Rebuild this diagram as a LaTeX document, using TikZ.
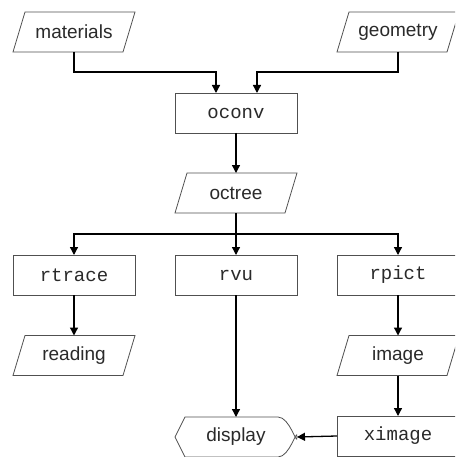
\documentclass[tikz,border=0pt]{standalone}
\usepackage{fontspec}
\setmainfont{Liberation Sans}
\setmonofont{Liberation Mono}
\usetikzlibrary{arrows.meta}
\definecolor{shapegray}{HTML}{505050}
\definecolor{txtgray}{HTML}{2A2A2A}
\tikzset{
  base/.style={minimum width=122pt, minimum height=40pt, inner sep=0pt, outer sep=0pt,
    text=txtgray, font=\fontsize{19}{22}\selectfont},
  para/.style={base},
  procbox/.style={base, draw=shapegray, line width=0.8pt, font=\ttfamily\fontsize{19}{22}\selectfont},
  dispbox/.style={base},
  shapeline/.style={draw=shapegray, line width=0.8pt},
  conn/.style={draw=black, line width=1.3pt, -{Triangle[length=8pt,width=8pt]}},
  plainconn/.style={draw=black, line width=1.3pt}
}
\begin{document}
\begin{tikzpicture}[x=1pt,y=-1pt]
\useasboundingbox (0,0) rectangle (455,457);
\clip (0,0) rectangle (455,457);
\fill[white] (0,0) rectangle (455,457);
% nodes
\node[para] (mat) at (74,32) {materials};
\node[para] (geo) at (398,32) {geometry};
\node[procbox] (ocv) at (236,113) {oconv};
\node[para] (oct) at (236,193) {octree};
\node[procbox] (rtr) at (74,275) {rtrace};
\node[procbox] (rvu) at (236,275) {rvu};
\node[procbox] (rpc) at (398,275) {rpict};
\node[para] (rea) at (74,355.5) {reading};
\node[para] (img) at (398,355.5) {image};
\node[dispbox] (dis) at (236,437) {display};
\node[procbox] (xim) at (398,436) {ximage};
% parallelogram outlines
\foreach \n in {mat,geo,oct,rea,img}
  \draw[shapeline] ([xshift=12pt]\n.north west) -- (\n.north east)
     -- ([xshift=-12pt]\n.south east) -- (\n.south west) -- cycle;
% display outline
\draw[shapeline] (dis.west) -- ([xshift=10pt]dis.north west) -- ([xshift=-19pt]dis.north east)
  .. controls ([xshift=-7pt]dis.north east) and ([yshift=-10pt]dis.east) .. (dis.east)
  .. controls ([yshift=10pt]dis.east) and ([xshift=-7pt]dis.south east) .. ([xshift=-19pt]dis.south east)
  -- ([xshift=10pt]dis.south west) -- cycle;
% connectors
\coordinate (jm) at (216,72);
\coordinate (jg) at (257,72);
\draw[conn] (mat.south) |- (jm) -- (jm |- ocv.north);
\draw[conn] (geo.south) |- (jg) -- (jg |- ocv.north);
\draw[conn] (ocv.south) -- (oct.north);
\coordinate (split) at (236,234);
\draw[plainconn] (oct.south) -- (split);
\draw[conn] (split) -| (rtr.north);
\draw[conn] (split) -| (rpc.north);
\draw[conn] (split) -- (rvu.north);
\draw[conn] (rtr.south) -- (rea.north);
\draw[conn] (rpc.south) -- (img.north);
\draw[conn] (img.south) -- (xim.north);
\draw[conn] (rvu.south) -- (dis.north);
\draw[conn] (xim.west) -- (dis.east);
\end{tikzpicture}
\end{document}
